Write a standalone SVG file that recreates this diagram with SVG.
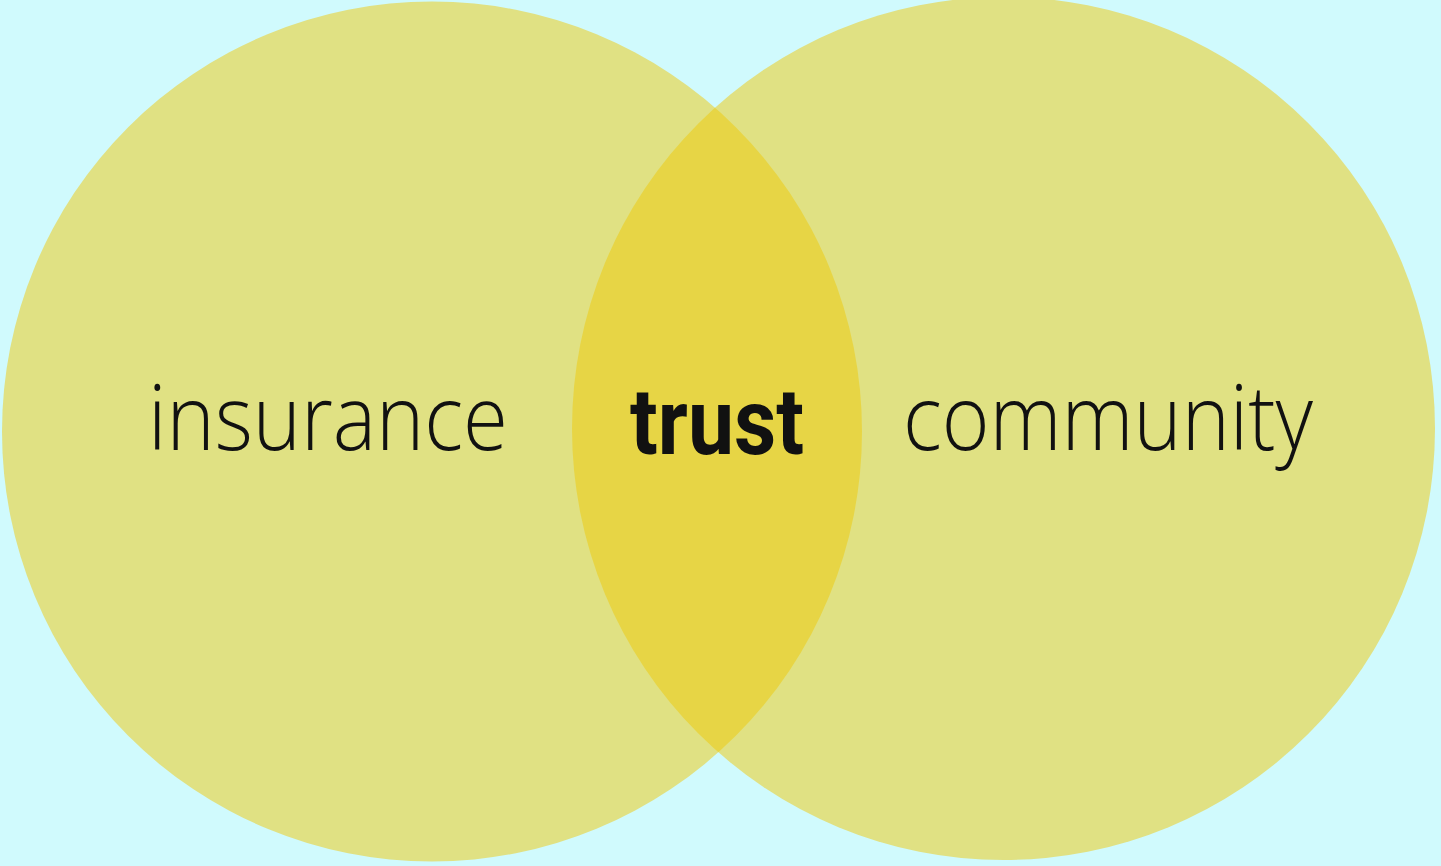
<svg xmlns="http://www.w3.org/2000/svg" width="1441" height="866" viewBox="0 0 1441 866">
<style>
.c{fill:#E0E183}
.lab{font-family:"Open Sans","DejaVu Sans",sans-serif;font-weight:300;font-size:90px;fill:#111}
.bold{font-family:Roboto,"Liberation Sans",sans-serif;font-weight:700;font-size:92px;fill:#111}
</style>
<defs>
<clipPath id="clipL"><circle cx="432" cy="431.5" r="430"/></clipPath>
</defs>
<rect width="1441" height="866" fill="#D0FAFD"/>
<g id="insurance-node">
<circle class="c" cx="432" cy="431.5" r="430"/>
</g>
<g id="community-node">
<circle class="c" cx="1003.5" cy="428.5" r="431.5"/>
</g>
<g id="trust-node">
<circle cx="1003.5" cy="428.5" r="431.5" fill="#E7D545" clip-path="url(#clipL)"/>
</g>
<g id="connectors"></g>
<g id="labels">
<text class="lab" x="148" y="450" textLength="360" lengthAdjust="spacingAndGlyphs">insurance</text>
<text class="bold" x="630" y="454" textLength="174" lengthAdjust="spacingAndGlyphs">trust</text>
<text class="lab" x="903" y="450" textLength="410" lengthAdjust="spacingAndGlyphs">community</text>
</g>
</svg>
